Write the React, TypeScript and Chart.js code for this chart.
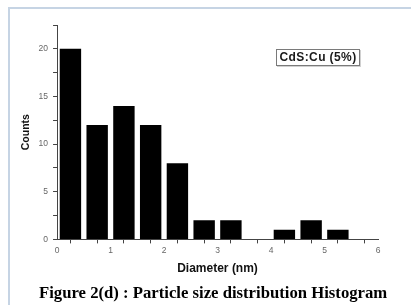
import React, { useEffect, useRef } from "react";
import { Chart, registerables } from "chart.js";

Chart.register(...registerables);

// Histogram bins (bin centres in nm) and counts
const binCenters = [0.25, 0.75, 1.25, 1.75, 2.25, 2.75, 3.25, 3.75, 4.25, 4.75, 5.25];
const counts = [20, 12, 14, 12, 8, 2, 2, 0, 1, 2, 1];
const seriesLabel = "CdS:Cu (5%)";
const xTitle = "Diameter (nm)";
const yTitle = "Counts";
const caption = "Figure 2(d) : Particle size distribution Histogram";

export default function App() {
  const canvasRef = useRef<HTMLCanvasElement | null>(null);

  useEffect(() => {
    document.body.style.margin = "0";
    const canvas = canvasRef.current;
    if (!canvas) return;
    const chart = new Chart(canvas, {
      type: "bar",
      data: {
        datasets: [
          {
            label: seriesLabel,
            data: binCenters.map((x, i) => ({ x, y: counts[i] })),
            backgroundColor: "#000000",
            borderWidth: 0,
            barPercentage: 0.8,
            categoryPercentage: 1.0,
          },
        ],
      },
      options: {
        animation: false,
        responsive: false,
        maintainAspectRatio: false,
        layout: { padding: { left: 20, right: 33, top: 25, bottom: 29 } },
        plugins: {
          legend: { display: false },
          tooltip: { enabled: false },
          title: { display: false },
        },
        scales: {
          x: {
            type: "linear",
            min: 0,
            max: 6,
            offset: false,
            grid: {
              drawOnChartArea: false,
              drawTicks: true,
              tickLength: 4,
              tickColor: "#444",
            },
            border: { display: true, color: "#444", width: 1 },
            ticks: {
              stepSize: 0.5,
              autoSkip: false,
              maxRotation: 0,
              padding: 2,
              color: "#666",
              font: { family: "Arial, 'Liberation Sans', sans-serif", size: 8.5 },
              callback: (v: any) => (Number.isInteger(Number(v)) ? String(v) : ""),
            },
            title: {
              display: true,
              text: xTitle,
              color: "#111",
              font: { family: "Arial, 'Liberation Sans', sans-serif", size: 12, weight: "bold" },
              padding: { top: 4, bottom: 0 },
            },
          },
          y: {
            type: "linear",
            min: 0,
            max: 22.5,
            grid: {
              drawOnChartArea: false,
              drawTicks: true,
              tickLength: 4,
              tickColor: "#444",
            },
            border: { display: true, color: "#444", width: 1 },
            ticks: {
              stepSize: 2.5,
              autoSkip: false,
              padding: 5,
              color: "#666",
              font: { family: "Arial, 'Liberation Sans', sans-serif", size: 8.5 },
              callback: (v: any) => (Number(v) % 5 === 0 ? String(v) : ""),
            },
            title: {
              display: true,
              text: yTitle,
              color: "#111",
              font: { family: "Arial, 'Liberation Sans', sans-serif", size: 10.5, weight: "bold" },
              padding: { top: 0, bottom: 1 },
            },
          },
        },
      },
    });
    return () => chart.destroy();
  }, []);

  return (
    <div style={{ position: "relative", width: 411, height: 305, overflow: "hidden", background: "#fff" }}>
      <div
        style={{
          position: "absolute",
          left: 8,
          top: 7,
          right: -20,
          bottom: -20,
          borderTop: "2px solid #c6d4e4",
          borderLeft: "2px solid #c6d4e4",
        }}
      />
      <canvas ref={canvasRef} width={411} height={305} style={{ position: "absolute", left: 0, top: 0 }} />
      <div
        style={{
          position: "absolute",
          left: 276,
          top: 49,
          width: 82,
          height: 15,
          border: "1px solid #7a7a7a",
          boxShadow: "1px 1px 0 #d0d0d0",
          background: "#fff",
          fontFamily: "Arial, 'Liberation Sans', sans-serif",
          fontWeight: "bold",
          fontSize: 12,
          letterSpacing: 0.4,
          lineHeight: "15px",
          textAlign: "center",
          color: "#1a1a1a",
          whiteSpace: "nowrap",
        }}
      >
        {seriesLabel}
      </div>
      <div
        style={{
          position: "absolute",
          left: 39,
          top: 283,
          fontFamily: "'Liberation Serif', 'Times New Roman', serif",
          fontWeight: "bold",
          fontSize: 16.7,
          lineHeight: "20px",
          color: "#000",
          whiteSpace: "nowrap",
        }}
      >
        {caption}
      </div>
    </div>
  );
}
